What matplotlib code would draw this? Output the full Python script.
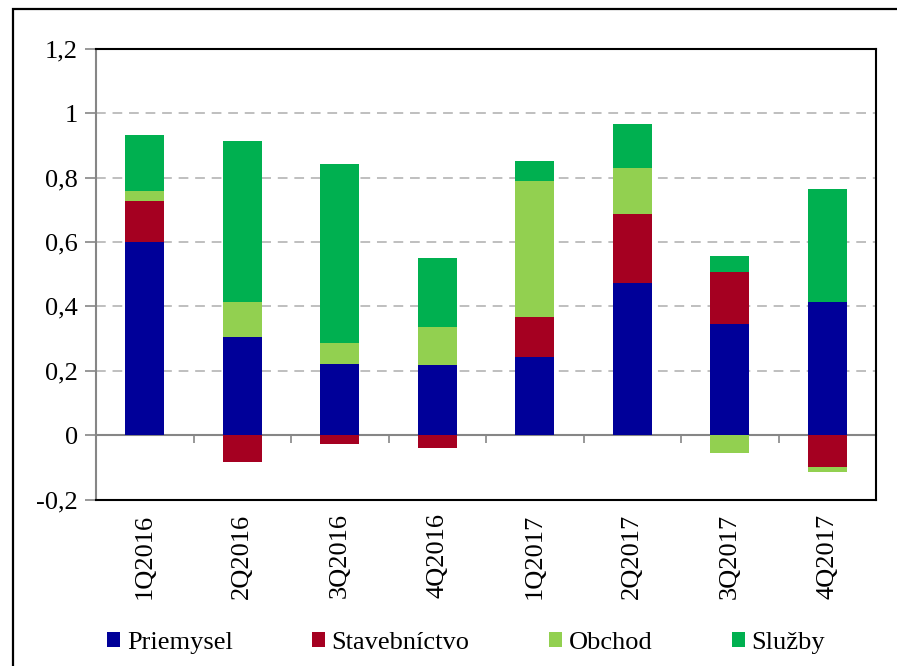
import matplotlib
matplotlib.use("Agg")
import matplotlib.pyplot as plt
import numpy as np
from matplotlib.patches import Rectangle
from matplotlib.ticker import FuncFormatter

plt.rcParams["font.family"] = ["Liberation Serif", "DejaVu Serif"]

quarters = ["1Q2016", "2Q2016", "3Q2016", "4Q2016",
            "1Q2017", "2Q2017", "3Q2017", "4Q2017"]

priemysel = [0.601, 0.306, 0.222, 0.219, 0.242, 0.472, 0.344, 0.415]
stavebnictvo = [0.128, -0.082, -0.027, -0.039, 0.125, 0.216, 0.162, -0.100]
obchod = [0.029, 0.107, 0.064, 0.117, 0.422, 0.142, -0.054, -0.013]
sluzby = [0.175, 0.502, 0.556, 0.216, 0.063, 0.137, 0.052, 0.349]

series = [
    ("Priemysel", priemysel, "#000099"),
    ("Stavebníctvo", stavebnictvo, "#A50021"),
    ("Obchod", obchod, "#92D050"),
    ("Služby", sluzby, "#00B050"),
]

FS = 19
W, H = 897, 666

fig = plt.figure(figsize=(W / 100, H / 100), dpi=100)
ax = fig.add_axes([96 / W, 1 - 499.5 / H, 780 / W, 450.5 / H])

# outer frame (clipped at right and bottom like the source)
fig.patches.append(Rectangle((13 / W, -0.05), 1.1, (H - 9) / H + 0.05,
                             transform=fig.transFigure, fill=False,
                             edgecolor="black", linewidth=1.6))

x = np.arange(len(quarters))
pos_bottom = np.zeros(len(quarters))
neg_bottom = np.zeros(len(quarters))
handles = []
for name, vals, color in series:
    vals = np.array(vals)
    bottom = np.where(vals >= 0, pos_bottom, neg_bottom)
    b = ax.bar(x, vals, width=0.4, bottom=bottom, color=color,
               edgecolor="none", label=name, zorder=3)
    handles.append(b)
    pos_bottom += np.where(vals >= 0, vals, 0)
    neg_bottom += np.where(vals < 0, vals, 0)

ax.set_xlim(-0.5, len(quarters) - 0.5)
ax.set_ylim(-0.2, 1.2)
ax.set_yticks(np.arange(-0.2, 1.21, 0.2))
ax.yaxis.set_major_formatter(FuncFormatter(
    lambda v, p: ("%g" % round(v, 1)).replace(".", ",")))
ax.set_xticks(x)
ax.set_xticklabels(quarters, rotation=90, fontsize=FS)
ax.tick_params(axis="x", length=0, pad=10)
ax.tick_params(axis="y", length=8, width=1.2, color="#868686",
               labelsize=FS, pad=5)

for v in np.arange(0.2, 1.01, 0.2):
    ax.axhline(v, color="#BFBFBF", linewidth=1.4, linestyle=(0, (5, 3.5)),
               zorder=1)

for s in ["top", "right", "bottom"]:
    ax.spines[s].set_color("black")
    ax.spines[s].set_linewidth(1.5)
ax.spines["left"].set_color("#868686")
ax.spines["left"].set_linewidth(1.5)

# category axis line at zero with boundary ticks
zero_frac = (0 - (-0.2)) / 1.4
sec = ax.secondary_xaxis(zero_frac)
sec.set_xticks(np.arange(-0.5, len(quarters), 1.0))
sec.set_xticklabels([])
sec.tick_params(axis="x", direction="out", length=6, width=1.2,
                color="#868686")
sec.spines["bottom"].set_color("#868686")
sec.spines["bottom"].set_linewidth(1.5)
sec.spines["bottom"].set_zorder(4)

fig.legend(handles=handles, loc="center left",
           bbox_to_anchor=(107 / W, 1 - 643 / H), ncol=4, frameon=False,
           fontsize=FS, handlelength=0.5, handleheight=0.5,
           handletextpad=0.25, columnspacing=3.0, borderaxespad=0,
           borderpad=0)

fig.savefig("out.png", dpi=100)
